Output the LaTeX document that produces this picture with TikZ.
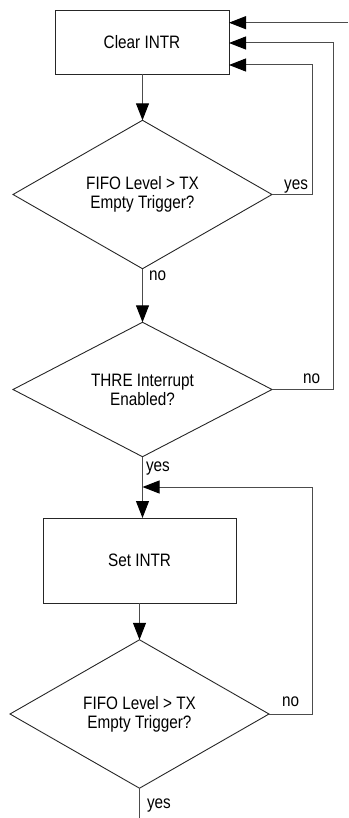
\documentclass[tikz,border=0pt]{standalone}
\usepackage{fontspec}
\setmainfont{Liberation Sans}[FakeStretch=0.85]
\usetikzlibrary{shapes.geometric,arrows.meta}
\begin{document}
\begin{tikzpicture}[x=1pt,y=-1pt,
  every node/.style={font=\fontsize{18}{19}\selectfont, inner sep=0pt, outer sep=0pt},
  procbox/.style={draw=black!85, line width=0.9pt, rectangle, align=center},
  decision/.style={draw=black!85, line width=0.9pt, diamond, align=center,
                   minimum width=259pt, minimum height=129pt},
  flow/.style={draw=black!70, line width=1pt},
  arr/.style={flow, -{Triangle[length=17pt,width=13pt,fill=black,color=black]}},
  lbl/.style={anchor=base west}]
\useasboundingbox (0,0) rectangle (348,818);

% process and decision blocks
\node[procbox, minimum width=174pt, minimum height=64pt] (clear) at (142,42) {Clear INTR};
\node[decision] (d1) at (142.5,194.5) {FIFO Level > TX\\Empty Trigger?};
\node[decision] (d2) at (142.5,389.5) {THRE Interrupt\\Enabled?};
\node[procbox, minimum width=193pt, minimum height=85pt] (set) at (139.5,560.5) {Set INTR};
\node[decision] (d3) at (139.5,714) {FIFO Level > TX\\Empty Trigger?};

% routing points
\coordinate (entry) at (348,22.7);
\coordinate (r1) at (312,194.5);
\coordinate (r2) at (333,389.5);
\coordinate (r3) at (312,714);
\coordinate (join) at (142.5,487);
\coordinate (exit) at (139.5,818);

% main flow
\draw[arr] (clear.south -| d1.north) -- (d1.north);
\draw[arr] (d1.south) -- (d2.north);
\draw[arr] (d2.south) -- (d2.south |- set.north);
\draw[arr] (set.south -| d3.north) -- (d3.north);
\draw[flow] (d3.south) -- (exit);

% feedback paths
\draw[arr] (entry) -- (entry -| clear.east);
\draw[arr] (d1.east) -- (r1) |- ([yshift=-23pt]clear.east);
\draw[arr] (d2.east) -- (r2) |- ([yshift=-1pt]clear.east);
\draw[arr] (d3.east) -- (r3) |- (join);

% branch labels
\node[anchor=base east] (l1) at (308,190) {yes};
\node[lbl] (l2) at (149,280) {no};
\node[lbl] (l3) at (303,383) {no};
\node[lbl] (l4) at (146,471) {yes};
\node[lbl] (l5) at (282,706) {no};
\node[lbl] (l6) at (147,808) {yes};
\end{tikzpicture}
\end{document}
